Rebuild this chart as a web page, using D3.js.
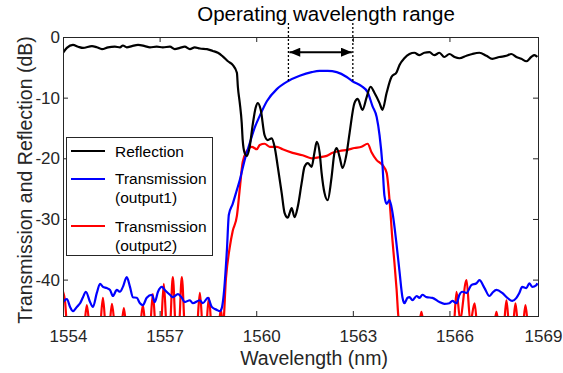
<!DOCTYPE html>
<html>
<head>
<meta charset="utf-8">
<script src="https://cdn.jsdelivr.net/npm/d3@7"></script>
<style>
  body { margin: 0; background: #fff; }
  svg { font-family: "Liberation Sans", Arial, sans-serif; }
</style>
</head>
<body>
<svg id="chart" width="563" height="373"></svg>
<script>
// wavelength (nm), level (dB)
var reflection = [
  [1554.00,-2.6],[1554.12,-1.8],[1554.31,-1.3],[1554.47,-1.6],[1554.62,-1.8],[1554.90,-1.5],[1555.05,-1.7],
  [1555.21,-2.0],[1555.40,-1.7],[1555.61,-1.6],[1555.77,-1.7],[1555.86,-1.4],[1555.98,-1.7],[1556.14,-1.5],
  [1556.33,-1.3],[1556.54,-1.5],[1556.70,-1.7],[1556.91,-1.6],[1557.10,-1.7],[1557.32,-1.6],[1557.47,-2.0],
  [1557.63,-1.8],[1557.78,-1.6],[1557.94,-2.0],[1558.09,-1.7],[1558.25,-1.9],[1558.47,-2.0],[1558.65,-2.3],
  [1558.81,-2.6],[1558.96,-3.2],[1559.12,-4.0],[1559.27,-4.6],[1559.40,-5.9],[1559.43,-8.2],[1559.49,-10.9],
  [1559.55,-14.2],[1559.58,-17.0],[1559.64,-19.1],[1559.71,-19.6],[1559.80,-18.0],[1559.89,-14.5],[1559.98,-11.7],
  [1560.05,-10.9],[1560.14,-12.0],[1560.26,-16.2],[1560.36,-17.0],[1560.48,-16.7],[1560.57,-18.1],[1560.67,-21.4],
  [1560.79,-25.7],[1560.88,-29.0],[1560.98,-29.8],[1561.04,-29.0],[1561.10,-28.2],[1561.19,-29.7],[1561.29,-28.0],
  [1561.41,-24.1],[1561.50,-21.4],[1561.60,-20.8],[1561.72,-21.4],[1561.81,-19.0],[1561.88,-17.3],[1561.97,-19.1],
  [1562.03,-22.4],[1562.12,-25.7],[1562.22,-26.9],[1562.34,-23.1],[1562.43,-19.1],[1562.50,-18.3],[1562.59,-19.8],
  [1562.68,-21.6],[1562.81,-19.1],[1562.90,-15.8],[1563.05,-10.9],[1563.15,-10.2],[1563.30,-12.0],[1563.43,-9.9],
  [1563.55,-8.2],[1563.67,-9.2],[1563.83,-10.9],[1563.92,-12.0],[1564.05,-9.2],[1564.20,-6.6],[1564.36,-5.8],
  [1564.45,-4.6],[1564.60,-3.5],[1564.76,-2.8],[1564.91,-2.6],[1565.07,-3.0],[1565.22,-2.6],[1565.38,-2.5],
  [1565.53,-3.0],[1565.69,-2.6],[1565.84,-3.3],[1566.00,-2.8],[1566.16,-3.3],[1566.31,-3.5],[1566.53,-3.1],
  [1566.71,-2.8],[1566.93,-2.6],[1567.15,-3.1],[1567.33,-3.6],[1567.55,-3.3],[1567.77,-3.1],[1567.92,-2.8],
  [1568.08,-3.3],[1568.23,-3.6],[1568.39,-4.0],[1568.54,-3.3],[1568.64,-3.0],[1568.73,-3.3]
];

var transmission1 = [
  [1554.00,-43.7],[1554.12,-43.2],[1554.22,-44.5],[1554.31,-45.2],[1554.43,-44.5],[1554.53,-43.9],[1554.62,-42.9],
  [1554.71,-42.0],[1554.84,-43.7],[1554.93,-44.5],[1555.05,-42.2],[1555.15,-40.7],[1555.24,-41.2],[1555.36,-41.4],
  [1555.46,-41.7],[1555.55,-42.7],[1555.67,-41.7],[1555.77,-42.0],[1555.86,-41.2],[1555.98,-39.6],[1556.08,-41.2],
  [1556.17,-42.9],[1556.29,-43.0],[1556.39,-43.9],[1556.48,-44.2],[1556.60,-43.0],[1556.76,-42.5],[1556.85,-43.7],
  [1556.95,-42.0],[1557.07,-41.2],[1557.16,-41.7],[1557.32,-42.5],[1557.41,-42.9],[1557.57,-42.4],[1557.69,-43.0],
  [1557.78,-43.7],[1557.94,-43.4],[1558.03,-43.9],[1558.25,-43.4],[1558.34,-43.9],[1558.50,-43.0],[1558.62,-44.5],
  [1558.78,-45.0],[1558.87,-45.2],[1558.93,-44.7],[1558.99,-42.5],[1559.09,-35.1],[1559.15,-29.3],[1559.27,-27.5],
  [1559.40,-25.2],[1559.49,-23.6],[1559.64,-20.3],[1559.80,-17.5],[1559.95,-15.0],[1560.11,-13.0],[1560.33,-10.6],
  [1560.64,-8.6],[1560.98,-7.3],[1561.35,-6.4],[1561.72,-5.8],[1561.97,-5.6],[1562.22,-5.6],[1562.50,-5.8],
  [1562.81,-6.6],[1562.99,-7.3],[1563.27,-8.1],[1563.46,-9.1],[1563.61,-11.4],[1563.74,-13.2],[1563.83,-16.2],
  [1563.92,-21.1],[1563.98,-26.1],[1564.05,-27.5],[1564.14,-26.9],[1564.23,-28.9],[1564.36,-34.3],[1564.45,-38.7],
  [1564.54,-42.9],[1564.60,-43.9],[1564.70,-43.0],[1564.76,-42.9],[1564.85,-43.4],[1564.98,-42.7],[1565.07,-43.0],
  [1565.16,-42.5],[1565.29,-42.9],[1565.47,-43.0],[1565.69,-43.7],[1565.84,-44.0],[1566.00,-43.9],[1566.09,-43.5],
  [1566.22,-43.9],[1566.31,-42.5],[1566.40,-42.0],[1566.53,-42.2],[1566.68,-40.9],[1566.84,-40.6],[1566.93,-40.1],
  [1567.09,-41.4],[1567.24,-42.7],[1567.33,-42.2],[1567.46,-41.7],[1567.64,-42.2],[1567.80,-43.0],[1567.95,-43.5],
  [1568.08,-43.0],[1568.17,-42.2],[1568.26,-41.2],[1568.39,-41.4],[1568.48,-40.6],[1568.57,-41.2],[1568.70,-40.9],
  [1568.73,-40.6]
];

// noise floor dips below the plotted range and gets clipped
var transmission2 = [
  [1554.00,-42.0],[1554.06,-43.4],[1554.14,-48.5],[1554.35,-50.0],[1554.64,-48.5],[1554.74,-44.2],[1554.84,-48.5],
  [1555.00,-50.0],[1555.14,-48.5],[1555.24,-43.0],[1555.34,-48.5],[1555.42,-48.5],[1555.52,-44.0],[1555.62,-48.5],
  [1555.70,-50.0],[1555.80,-48.5],[1555.89,-44.7],[1555.98,-48.5],[1556.20,-50.0],[1556.38,-48.5],[1556.48,-44.2],
  [1556.58,-48.5],[1556.69,-48.5],[1556.79,-42.4],[1556.89,-48.5],[1557.03,-48.5],[1557.13,-40.7],[1557.23,-48.5],
  [1557.31,-48.5],[1557.41,-39.6],[1557.51,-48.5],[1557.59,-48.5],[1557.69,-39.6],[1557.79,-48.5],[1557.95,-50.0],
  [1558.15,-48.5],[1558.25,-42.2],[1558.35,-48.5],[1558.43,-48.5],[1558.53,-43.0],[1558.63,-48.5],[1558.81,-48.5],
  [1558.90,-45.0],[1558.97,-47.5],[1559.06,-39.8],[1559.18,-34.6],[1559.27,-32.0],[1559.40,-29.5],[1559.49,-25.0],
  [1559.58,-20.6],[1559.71,-18.8],[1559.86,-18.1],[1560.02,-18.5],[1560.11,-17.8],[1560.26,-17.6],[1560.42,-18.1],
  [1560.64,-18.1],[1560.82,-18.5],[1561.13,-19.1],[1561.44,-19.5],[1561.72,-20.0],[1561.97,-19.8],[1562.19,-19.6],
  [1562.37,-19.1],[1562.59,-18.8],[1562.84,-18.6],[1563.05,-18.3],[1563.27,-18.1],[1563.46,-17.6],[1563.58,-19.0],
  [1563.74,-20.3],[1563.92,-21.1],[1564.05,-22.4],[1564.14,-26.9],[1564.23,-33.5],[1564.29,-37.1],[1564.36,-41.7],
  [1564.42,-46.3],[1564.70,-50.0],[1565.03,-48.5],[1565.13,-45.3],[1565.23,-48.5],[1565.70,-50.0],[1566.12,-48.5],
  [1566.22,-42.0],[1566.33,-46.5],[1566.53,-40.1],[1566.65,-47.0],[1566.78,-43.9],[1566.88,-48.5],[1567.10,-50.0],
  [1567.36,-48.5],[1567.46,-45.3],[1567.56,-48.5],[1567.67,-48.5],[1567.77,-43.4],[1567.87,-48.5],[1567.95,-48.5],
  [1568.05,-43.9],[1568.15,-48.5],[1568.26,-48.5],[1568.36,-44.2],[1568.46,-48.5],[1568.73,-50.0]
];

var xTicks = [1554, 1557, 1560, 1563, 1566, 1568.75];
var xTickLabels = ["1554", "1557", "1560", "1563", "1566", "1569"];
var yTicks = [0, -10, -20, -30, -40];
var yTickLabels = ["0", "-10", "-20", "-30", "-40"];

var legendLabels = [["Reflection"], ["Transmission", "(output1)"], ["Transmission", "(output2)"]];
var seriesColors = ["#000000", "#0000ff", "#ff0000"];

// operating range annotation
var opRange = [1561, 1563];
var opTitle = "Operating wavelength range";
var opArrowDb = -2.5, opDashTopDb = 2.3, opDashBottomDb = [-7.2, -7.2];

(function() {
  var svg = d3.select("#chart");
  var plotLeft = 63, plotRight = 538, plotTop = 37, plotBottom = 316;

  var x = d3.scaleLinear().domain([1554, 1568.75]).range([plotLeft, plotRight]);
  var y = d3.scaleLinear().domain([-46, 0]).range([plotBottom, plotTop]);

  var defs = svg.append("defs");
  defs.append("clipPath").attr("id", "plotclip")
    .append("rect")
    .attr("x", plotLeft).attr("y", plotTop)
    .attr("width", plotRight - plotLeft).attr("height", plotBottom - plotTop);

  var line = d3.line()
    .x(function(d) { return x(d[0]); })
    .y(function(d) { return y(d[1]); })
    .curve(d3.curveMonotoneX);

  var plot = svg.append("g").attr("clip-path", "url(#plotclip)");
  [transmission2, transmission1, reflection].forEach(function(s, i) {
    plot.append("path")
      .datum(s)
      .attr("fill", "none")
      .attr("stroke", seriesColors[2 - i])
      .attr("stroke-width", 2.2)
      .attr("stroke-linejoin", "round")
      .attr("d", line);
  });

  // axes, ticks pointing inward
  var axisColor = "#262626";
  function styleAxis(g) {
    g.select(".domain").remove();
    g.selectAll(".tick line").attr("stroke", axisColor);
    g.selectAll("text")
      .attr("fill", axisColor)
      .style("font-size", "17px")
      .style("font-family", "'Liberation Sans', Arial, sans-serif");
  }

  svg.append("g")
    .attr("transform", "translate(0," + plotBottom + ")")
    .call(d3.axisBottom(x).tickValues(xTicks)
      .tickFormat(function(d, i) { return xTickLabels[i]; })
      .tickSizeInner(-5).tickSizeOuter(0).tickPadding(14))
    .call(styleAxis)
    .selectAll("text").attr("dx", 5);

  svg.append("g")
    .attr("transform", "translate(0," + plotTop + ")")
    .call(d3.axisTop(x).tickValues(xTicks).tickFormat("").tickSizeInner(-5).tickSizeOuter(0))
    .call(styleAxis);

  svg.append("g")
    .attr("transform", "translate(" + plotLeft + ",0)")
    .call(d3.axisLeft(y).tickValues(yTicks)
      .tickFormat(function(d, i) { return yTickLabels[i]; })
      .tickSizeInner(-5).tickSizeOuter(0).tickPadding(3))
    .call(styleAxis);

  svg.append("g")
    .attr("transform", "translate(" + plotRight + ",0)")
    .call(d3.axisRight(y).tickValues(yTicks).tickFormat("").tickSizeInner(-5).tickSizeOuter(0))
    .call(styleAxis);

  svg.append("rect")
    .attr("x", plotLeft + 0.5).attr("y", plotTop + 0.5)
    .attr("width", plotRight - plotLeft).attr("height", plotBottom - plotTop)
    .attr("fill", "none")
    .attr("stroke", axisColor)
    .attr("stroke-width", 1);

  // axis titles
  svg.append("text")
    .attr("x", 314).attr("y", 365)
    .attr("text-anchor", "middle")
    .attr("fill", axisColor)
    .style("font-size", "19.5px")
    .text("Wavelength (nm)");

  svg.append("text")
    .attr("transform", "translate(32,180) rotate(-90)")
    .attr("text-anchor", "middle")
    .attr("fill", axisColor)
    .style("font-size", "19.5px")
    .text("Transmission and Reflection (dB)");

  // operating range: dashed markers + double arrow
  defs.append("marker").attr("id", "ahead")
    .attr("markerUnits", "userSpaceOnUse")
    .attr("viewBox", "0 0 12 10").attr("refX", 12).attr("refY", 5)
    .attr("markerWidth", 12).attr("markerHeight", 9)
    .attr("orient", "auto-start-reverse")
    .append("path").attr("d", "M0,0L12,5L0,10Z").attr("fill", "#000");

  opRange.forEach(function(w, i) {
    svg.append("line")
      .attr("x1", x(w)).attr("x2", x(w))
      .attr("y1", y(opDashTopDb)).attr("y2", y(opDashBottomDb[i]))
      .attr("stroke", "#000")
      .attr("stroke-width", 1.3)
      .attr("stroke-dasharray", "2,2");
  });

  svg.append("line")
    .attr("x1", x(opRange[0]) + 1).attr("x2", x(opRange[1]) - 1)
    .attr("y1", y(opArrowDb)).attr("y2", y(opArrowDb))
    .attr("stroke", "#000")
    .attr("stroke-width", 2)
    .attr("marker-start", "url(#ahead)")
    .attr("marker-end", "url(#ahead)");

  svg.append("text")
    .attr("x", 326).attr("y", 21)
    .attr("text-anchor", "middle")
    .attr("fill", "#000")
    .style("font-size", "20.5px")
    .text(opTitle);

  // legend
  var legend = svg.append("g");
  legend.append("rect")
    .attr("x", 66.5).attr("y", 137.5)
    .attr("width", 146).attr("height", 118)
    .attr("fill", "#fff")
    .attr("stroke", axisColor)
    .attr("stroke-width", 1);

  var legendLineY = [151, 179, 226];
  var legendTextY = [157, 184, 232];
  legendLabels.forEach(function(lab, i) {
    legend.append("line")
      .attr("x1", 71).attr("x2", 105)
      .attr("y1", legendLineY[i]).attr("y2", legendLineY[i])
      .attr("stroke", seriesColors[i])
      .attr("stroke-width", 2.2);
    lab.forEach(function(t, j) {
      legend.append("text")
        .attr("x", 115).attr("y", legendTextY[i] + j * 18.5)
        .attr("fill", "#000")
        .style("font-size", "15.5px")
        .text(t);
    });
  });
})();
</script>
</body>
</html>
